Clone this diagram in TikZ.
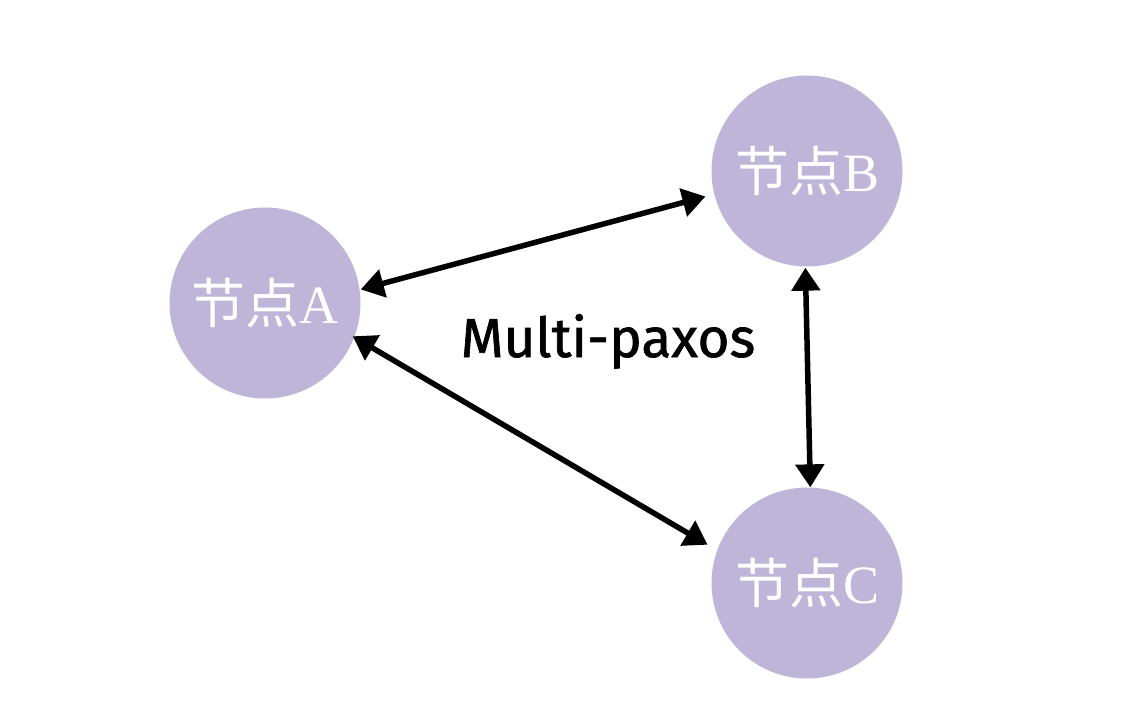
\documentclass[tikz,border=0pt]{standalone}
\usepackage{fontspec}
\newfontfamily\cjk{Noto Sans CJK SC}
\newfontfamily\latinserif{Liberation Serif}
\newfontfamily\labelfont[FakeBold=1.2]{Fira Sans}
\usetikzlibrary{arrows.meta}
\definecolor{nodefill}{HTML}{BFB5D9}
\begin{document}
\begin{tikzpicture}[x=1pt,y=-1pt,
  peer/.style={circle, fill=nodefill, minimum size=191pt, inner sep=0pt, text=white,
    font=\cjk\fontsize{54}{58}\selectfont},
  link/.style={line width=5.5pt, {Triangle[length=23pt,width=28pt]}-{Triangle[length=23pt,width=28pt]}}
]
\useasboundingbox (0,0) rectangle (1142,703);
\node[peer] (A) at (265,303) {节点{\latinserif A}};
\node[peer] (B) at (807,171) {节点{\latinserif B}};
\node[peer] (C) at (807,583) {节点{\latinserif C}};
\node[font=\labelfont\fontsize{55}{58}\selectfont, anchor=base] (M) at (608,357) {Multi-paxos};
\draw[link, shorten <=1pt, shorten >=9pt] (A.8) -- (B.194);
\draw[link, shorten <=1pt, shorten >=0pt] (B.269) -- (C.88);
\draw[link, shorten <=-2pt, shorten >=11pt] (A.339) -- (C.160);
\end{tikzpicture}
\end{document}
